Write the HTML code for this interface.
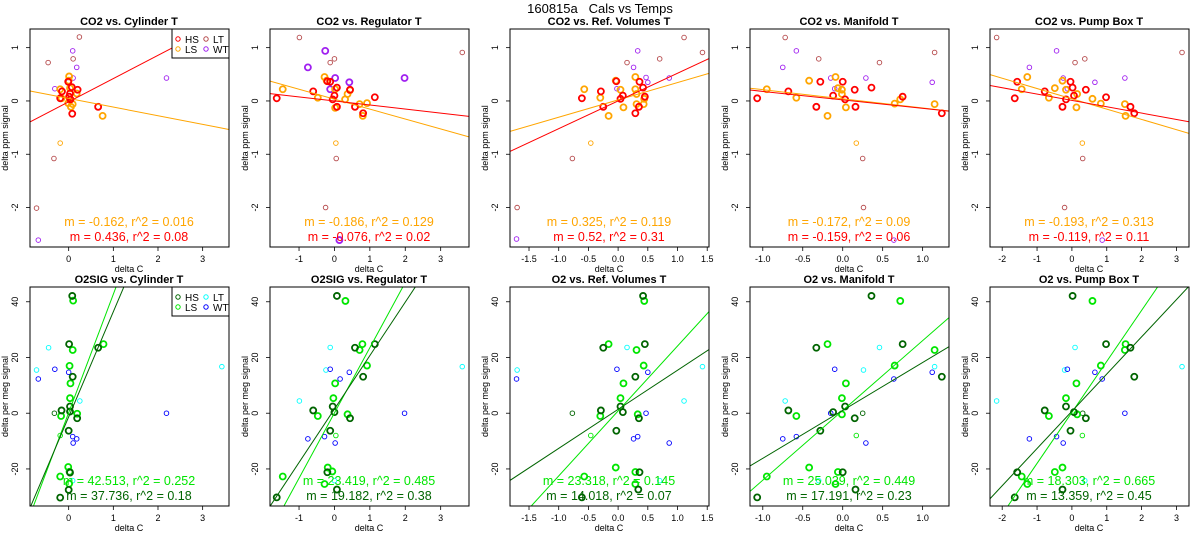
<!DOCTYPE html>
<html><head><meta charset="utf-8"><style>
body{margin:0;background:#fff;}
svg{display:block;font-family:"Liberation Sans",sans-serif;}
</style></head><body>
<svg id="chart" width="1200" height="550" viewBox="0 0 1200 550" xmlns="http://www.w3.org/2000/svg">
<rect width="1200" height="550" fill="#fff"/>
<text x="600" y="13" text-anchor="middle" font-size="13">160815a&#160;&#160;&#160;Cals vs Temps</text>
</svg>
<script>
// ===== CO2 (top row) data: [x, y] =====
const co2_cyl_HS=[[-0.15,0.18],[-0.01,0.36],[0.01,0.08],[0.07,0.26],[0.2,0.21],[0.66,-0.11],[0.08,-0.24],[-0.19,0.05],[0.04,0.03],[0.03,0.14]];
const co2_cyl_LS=[[0.01,0.46],[0,0.38],[-0.19,0.22],[-0.16,0.05],[0.03,0.24],[0.05,-0.11],[0.09,-0.06],[0.18,0.14],[0.76,-0.28],[-0.01,-0.04],[0.03,0.02]];
const co2_cyl_LT=[[0.24,1.2],[-0.46,0.72],[0.1,0.79],[-0.72,-2.01],[-0.33,-1.08]];
const co2_cyl_WT=[[0.09,0.94],[0.18,0.63],[-0.31,0.23],[0.1,0.43],[0,0.36],[2.19,0.43],[-0.68,-2.61]];
const co2_cyl_LSthin=[[-0.19,-0.79]];
const co2_reg_HS=[[-1.63,0.05],[-0.6,0.18],[-0.2,0.37],[-0.12,0.36],[-0.05,0.03],[0,0.1],[0.07,0.25],[0.07,-0.11],[0.44,0.21],[0.58,-0.11],[0.81,-0.23],[1.14,0.07]];
const co2_reg_LS=[[-1.46,0.22],[-0.47,0.06],[-0.28,0.45],[-0.22,0.38],[0.02,-0.13],[0.3,0.03],[0.37,0.13],[0.44,0.2],[0.71,-0.06],[0.8,-0.28],[0.92,-0.04],[0.02,0.22]];
const co2_reg_LT=[[-0.99,1.19],[-0.12,0.72],[0,0.79],[3.61,0.91],[-0.25,-2.0],[0.05,-1.08]];
const co2_reg_WT=[[-0.26,0.94],[-0.75,0.63],[0.02,0.43],[0.42,0.35],[-0.12,0.22],[1.98,0.43],[0.14,-2.61]];
const co2_reg_LSthin=[[0.04,-0.79]];
const co2_ref_HS=[[-0.61,0.05],[-0.29,0.18],[-0.25,-0.11],[-0.03,0.37],[0.04,0.04],[0.08,0.1],[0.29,-0.23],[0.35,-0.11],[0.36,0.36],[0.42,0.25],[0.45,0.08]];
const co2_ref_LS=[[-0.57,0.22],[-0.3,0.06],[-0.16,-0.28],[-0.04,0.38],[0.04,0.21],[0.09,-0.12],[0.29,0.45],[0.29,0.22],[0.31,0.13],[0.31,-0.06],[0.43,-0.06],[0.44,0.04]];
const co2_ref_LT=[[0.15,0.72],[0.7,0.79],[1.11,1.19],[1.42,0.91],[-1.7,-2.0],[-0.77,-1.08]];
const co2_ref_WT=[[0.33,0.94],[0.26,0.63],[-0.02,0.23],[0.47,0.44],[0.5,0.35],[0.86,0.43],[-1.71,-2.59]];
const co2_ref_LSthin=[[-0.46,-0.79]];
const co2_man_HS=[[-1.07,0.05],[-0.68,0.18],[-0.33,-0.11],[-0.28,0.36],[-0.12,0.1],[0,0.36],[0.03,0.03],[0.15,0.21],[0.16,-0.11],[0.36,0.25],[0.75,0.08],[1.24,-0.23]];
const co2_man_LS=[[-0.95,0.22],[-0.58,0.06],[-0.42,0.38],[-0.19,-0.28],[-0.09,0.45],[-0.06,0.24],[-0.01,0.21],[-0.01,0.13],[0.04,-0.12],[0.65,-0.05],[0.72,0.03],[1.15,-0.06]];
const co2_man_LT=[[-0.72,1.19],[-0.3,0.79],[0.46,0.72],[1.15,0.91],[0.26,-2.0],[0.25,-1.08]];
const co2_man_WT=[[-0.58,0.94],[-0.75,0.63],[-0.15,0.43],[-0.1,0.23],[0.29,0.43],[1.12,0.35],[0.64,-2.61]];
const co2_man_LSthin=[[0.17,-0.79]];
const co2_pump_HS=[[-1.64,0.05],[-1.57,0.36],[-0.78,0.18],[-0.27,-0.11],[-0.17,0.03],[-0.04,0.36],[0.02,0.25],[0.06,0.1],[0.4,0.21],[0.98,0.07],[1.68,-0.11],[1.79,-0.23]];
const co2_pump_LS=[[-1.44,0.22],[-1.28,0.45],[-0.66,0.06],[-0.49,0.24],[-0.27,0.38],[-0.17,0.21],[0.13,-0.12],[0.15,0.13],[0.59,0.04],[0.83,-0.05],[1.52,-0.06],[1.54,-0.28]];
const co2_pump_LT=[[-2.16,1.19],[0.09,0.72],[0.37,0.79],[3.16,0.91],[-0.21,-2.0],[0.31,-1.08]];
const co2_pump_WT=[[-0.44,0.94],[-1.22,0.63],[-0.25,0.43],[-0.13,0.23],[0.66,0.35],[1.52,0.43],[0.87,-2.61]];
const co2_pump_LSthin=[[0.3,-0.79]];
// ===== O2 (bottom row) data =====
const o2_cyl_HS=[[0.08,42.1],[0.01,24.8],[0.66,23.5],[0.09,13.1],[0.03,2.4],[-0.16,1.0],[0.03,0.6],[0.19,-1.8],[0,-6.3],[0.03,-21.3],[0,-27.5],[-0.19,-30.3]];
const o2_cyl_LS=[[0.1,40.4],[0.09,22.7],[0.78,24.8],[0.02,17.0],[0.04,10.7],[0.03,5.4],[-0.17,-1.0],[0.19,-0.2],[-0.01,-19.3],[-0.19,-22.7],[0.01,-25.3],[0.02,-21.0]];
const o2_cyl_LT=[[-0.45,23.5],[-0.72,15.5],[0.25,4.4],[3.43,16.7],[0.09,-24.2]];
const o2_cyl_WT=[[-0.31,15.8],[-0.68,12.3],[0,14.7],[2.19,0],[0.09,-8.4],[0.1,-10.7],[0.18,-9.2]];
const o2_cyl_HSthin=[[-0.32,0]];
const o2_cyl_LSthin=[[-0.19,-8.0]];
const o2_reg_HS=[[0.07,42.1],[1.14,24.8],[0.58,23.5],[0.81,13.1],[-0.05,2.4],[-0.6,1.0],[0,0.4],[0.44,-1.8],[-0.12,-6.3],[-0.2,-21.2],[0.07,-27.4],[-1.63,-30.2]];
const o2_reg_LS=[[0.31,40.3],[0.79,24.8],[0.71,22.7],[0.92,17.1],[0.02,10.7],[-0.03,5.4],[-0.47,-1.0],[0.37,-0.4],[-0.19,-19.5],[-1.46,-22.7],[-0.28,-25.4],[-0.06,-20.9]];
const o2_reg_LT=[[-0.12,23.6],[-0.24,15.5],[-0.99,4.4],[3.61,16.7],[0,-24.2]];
const o2_reg_WT=[[-0.12,15.8],[0.16,12.3],[0.42,14.7],[1.98,0],[-0.75,-9.2],[-0.28,-8.4],[0.02,-10.7]];
const o2_reg_HSthin=[];
const o2_reg_LSthin=[[0.04,-8.0]];
const o2_ref_HS=[[0.42,42.1],[0.45,24.8],[-0.25,23.5],[0.29,13.1],[0.04,2.4],[-0.29,1.0],[0.08,0.4],[0.35,-1.8],[-0.03,-6.3],[0.36,-21.2],[0.34,-27.4],[-0.61,-30.2]];
const o2_ref_LS=[[0.44,40.3],[-0.16,24.8],[0.31,22.7],[0.43,17.1],[0.09,10.7],[0.04,5.4],[-0.3,-1.0],[0.33,-0.4],[-0.04,-19.5],[-0.57,-22.7],[0.29,-25.4],[0.29,-21.1]];
const o2_ref_LT=[[0.15,23.6],[-1.7,15.5],[1.11,4.4],[1.42,16.7],[0.7,-24.2]];
const o2_ref_WT=[[-0.02,15.8],[-1.71,12.3],[0.5,14.7],[0.47,0],[0.26,-9.2],[0.33,-8.4],[0.86,-10.7]];
const o2_ref_HSthin=[[-0.77,0]];
const o2_ref_LSthin=[[-0.46,-8.0]];
const o2_man_HS=[[0.36,42.1],[0.75,24.8],[-0.33,23.5],[1.24,13.1],[0.03,2.4],[-0.68,1.0],[-0.12,0.4],[0.15,-1.8],[-0.28,-6.3],[0,-21.2],[0.16,-27.4],[-1.07,-30.2]];
const o2_man_LS=[[0.72,40.3],[-0.19,24.8],[1.15,22.7],[0.65,17.1],[0.04,10.7],[-0.01,5.4],[-0.58,-1.0],[-0.01,-0.4],[-0.42,-19.5],[-0.95,-22.7],[-0.09,-25.4],[-0.06,-21.1]];
const o2_man_LT=[[0.46,23.6],[0.26,15.5],[-0.72,4.4],[1.15,16.7],[-0.3,-24.2]];
const o2_man_WT=[[-0.1,15.8],[0.64,12.3],[1.12,14.7],[-0.15,0],[-0.75,-9.2],[-0.58,-8.4],[0.29,-10.7]];
const o2_man_HSthin=[[0.25,0]];
const o2_man_LSthin=[[0.17,-8.0]];
const o2_pump_HS=[[0.02,42.1],[0.98,24.8],[1.68,23.5],[1.79,13.1],[-0.17,2.4],[-0.78,1.0],[0.06,0.4],[0.4,-1.8],[-0.04,-6.3],[-1.57,-21.2],[-0.27,-27.4],[-1.64,-30.2]];
const o2_pump_LS=[[0.59,40.3],[1.54,24.8],[1.52,22.7],[0.83,17.1],[0.13,10.7],[-0.17,5.4],[-0.66,-1.0],[0.15,-0.4],[-0.27,-19.5],[-1.44,-22.7],[-1.28,-25.4],[-0.49,-21.1]];
const o2_pump_LT=[[0.09,23.6],[-0.21,15.5],[-2.16,4.4],[3.16,16.7],[0.37,-24.2]];
const o2_pump_WT=[[-0.13,15.8],[0.87,12.3],[0.66,14.7],[1.52,0],[-1.22,-9.2],[-0.44,-8.4],[-0.25,-10.7]];
const o2_pump_HSthin=[[0.31,0]];
const o2_pump_LSthin=[[0.3,-8.0]];
// ===== fit lines: [intercept, slope] =====
const fitHS=[[-0.016,0.436],[0.0,-0.076],[0.0,0.52],[0.02,-0.159],[0.01,-0.119],[-1.3,37.736],[1.5,19.182],[1.4,14.018],[1.0,17.191],[0.7,13.359]];
const fitLS=[[0.047,-0.162],[0.033,-0.186],[0.02,0.325],[0.04,-0.172],[0.04,-0.193],[0.2,42.513],[0.1,23.419],[0.8,23.318],[1.0,25.039],[0.3,18.303]];
const labelHS=["m = 0.436, r^2 = 0.08","m = -0.076, r^2 = 0.02","m = 0.52, r^2 = 0.31","m = -0.159, r^2 = 0.06","m = -0.119, r^2 = 0.11","m = 37.736, r^2 = 0.18","m = 19.182, r^2 = 0.38","m = 14.018, r^2 = 0.07","m = 17.191, r^2 = 0.23","m = 13.359, r^2 = 0.45"];
const labelLS=["m = -0.162, r^2 = 0.016","m = -0.186, r^2 = 0.129","m = 0.325, r^2 = 0.119","m = -0.172, r^2 = 0.09","m = -0.193, r^2 = 0.313","m = 42.513, r^2 = 0.252","m = 23.419, r^2 = 0.485","m = 23.318, r^2 = 0.145","m = 25.039, r^2 = 0.449","m = 18.303, r^2 = 0.665"];
const titles=["CO2 vs. Cylinder T","CO2 vs. Regulator T","CO2 vs. Ref. Volumes T","CO2 vs. Manifold T","CO2 vs. Pump Box T","O2SIG vs. Cylinder T","O2SIG vs. Regulator T","O2 vs. Ref. Volumes T","O2 vs. Manifold T","O2 vs. Pump Box T"];
const xTicks=[[0,1,2,3],[-1,0,1,2,3],[-1.5,-1,-0.5,0,0.5,1,1.5],[-1,-0.5,0,0.5,1],[-2,-1,0,1,2,3]];
const xTickLabels=[["0","1","2","3"],["-1","0","1","2","3"],["-1.5","-1.0","-0.5","0.0","0.5","1.0","1.5"],["-1.0","-0.5","0.0","0.5","1.0"],["-2","-1","0","1","2","3"]];
const yTicksTop=[-2,-1,0,1];
const yTicksBot=[-20,0,20,40];

const NS="http://www.w3.org/2000/svg";
const svg=document.getElementById('chart');
const xDomains=[[-0.866,3.59],[-1.82,3.80],[-1.82,1.53],[-1.16,1.33],[-2.35,3.36]];
const cols={top:{HS:"#ff0000",LS:"#ffa500",LT:"#b5494b",WT:"#a020f0"},bot:{HS:"#006400",LS:"#00e600",LT:"#00ffff",WT:"#0000ff"}};
const sets=[
 [co2_cyl_HS,co2_cyl_LS,co2_cyl_LT,co2_cyl_WT,[],co2_cyl_LSthin],
 [co2_reg_HS,co2_reg_LS,co2_reg_LT,co2_reg_WT,[],co2_reg_LSthin],
 [co2_ref_HS,co2_ref_LS,co2_ref_LT,co2_ref_WT,[],co2_ref_LSthin],
 [co2_man_HS,co2_man_LS,co2_man_LT,co2_man_WT,[],co2_man_LSthin],
 [co2_pump_HS,co2_pump_LS,co2_pump_LT,co2_pump_WT,[],co2_pump_LSthin],
 [o2_cyl_HS,o2_cyl_LS,o2_cyl_LT,o2_cyl_WT,o2_cyl_HSthin,o2_cyl_LSthin],
 [o2_reg_HS,o2_reg_LS,o2_reg_LT,o2_reg_WT,o2_reg_HSthin,o2_reg_LSthin],
 [o2_ref_HS,o2_ref_LS,o2_ref_LT,o2_ref_WT,o2_ref_HSthin,o2_ref_LSthin],
 [o2_man_HS,o2_man_LS,o2_man_LT,o2_man_WT,o2_man_HSthin,o2_man_LSthin],
 [o2_pump_HS,o2_pump_LS,o2_pump_LT,o2_pump_WT,o2_pump_HSthin,o2_pump_LSthin]];

function mk(tag,attrs,parent){const e=document.createElementNS(NS,tag);for(const k in attrs)e.setAttribute(k,attrs[k]);(parent||svg).appendChild(e);return e;}

for(let i=0;i<10;i++){
  const row=i<5?'top':'bot', c=i%5, off=c*240;
  const L=off+30,R=off+229,T=row==='top'?29:287,B=row==='top'?247:506;
  const xd=xDomains[c], yd=row==='top'?[-2.74,1.35]:[-33.3,45.3];
  const sx=v=>L+(v-xd[0])/(xd[1]-xd[0])*(R-L);
  const sy=v=>B-(v-yd[0])/(yd[1]-yd[0])*(B-T);
  const col=cols[row];
  const g=mk('g',{});
  
  
  const cp=mk('clipPath',{id:'cp'+i},g);mk('rect',{x:L,y:T,width:R-L,height:B-T},cp);
  const t=mk('text',{x:off+129,y:T-4,'text-anchor':'middle','font-size':11,'font-weight':'bold'},g);t.textContent=titles[i];
  
  
  xTicks[c].forEach((v,k)=>{const x=sx(v);mk('line',{x1:x,x2:x,y1:B,y2:B+4,stroke:'#000','stroke-width':0.8},g);
    const tl=mk('text',{x:x,y:B+15,'text-anchor':'middle','font-size':9},g);tl.textContent=xTickLabels[c][k];
    
    });
  const xt=mk('text',{x:off+129,y:B+25,'text-anchor':'middle','font-size':9},g);xt.textContent='delta C';
  
  
  (row==='top'?yTicksTop:yTicksBot).forEach(v=>{const y=sy(v);mk('line',{x1:L-4,x2:L,y1:y,y2:y,stroke:'#000','stroke-width':0.8},g);
    const tl=mk('text',{x:0,y:0,'text-anchor':'middle','font-size':9,transform:`translate(${off+18},${y}) rotate(-90)`},g);tl.textContent=String(v);
    
    });
  const yt=mk('text',{x:0,y:0,'text-anchor':'middle','font-size':9,transform:`translate(${off+8},${(T+B)/2}) rotate(-90)`},g);
  yt.textContent=row==='top'?'delta ppm signal':'delta per meg signal';
  
  
  const s=sets[i];
  const groups=[[s[2],col.LT,false],[s[3],col.WT,(i===1)],[s[4],col.HS,false],[s[5],col.LS,false],[s[1],col.LS,true],[s[0],col.HS,true]];
  groups.forEach(([arr,color,thick])=>arr.forEach(p=>{
    const cc=mk('circle',{cx:sx(p[0]),cy:sy(p[1]),r:thick?3:2.3,fill:'none',stroke:color,'stroke-width':thick?1.8:0.9},g);
    
    }));
  [[fitLS[i],col.LS],[fitHS[i],col.HS]].forEach(([f,color])=>{
    const ln=mk('line',{x1:sx(xd[0]),y1:sy(f[0]+f[1]*xd[0]),x2:sx(xd[1]),y2:sy(f[0]+f[1]*xd[1]),stroke:color,'stroke-width':1,'clip-path':`url(#cp${i})`},g);
    
    });
  const a=mk('text',{x:off+129,y:B-21,'text-anchor':'middle','font-size':12.5,fill:col.LS},g);a.textContent=labelLS[i];
  
  
  const b=mk('text',{x:off+129,y:B-6,'text-anchor':'middle','font-size':12.5,fill:col.HS},g);b.textContent=labelHS[i];
  
  
  mk('rect',{x:L,y:T,width:R-L,height:B-T,fill:'none',stroke:'#000','stroke-width':1},g);
  if(c===0){
    const lg=mk('g',{},g);
    
    
    mk('rect',{x:172,y:T,width:57,height:29,fill:'#fff',stroke:'#000','stroke-width':1},lg);
    [['HS',178,T+10],['LS',178,T+20],['LT',206,T+10],['WT',206,T+20]].forEach(([nm,x,y])=>{
      mk('circle',{cx:x,cy:y,r:2.2,fill:'none',stroke:col[nm],'stroke-width':1},lg);
      const lt=mk('text',{x:x+7,y:y+4,'font-size':10},lg);lt.textContent=nm;
      
      });
  }
}
</script>
</body></html>
